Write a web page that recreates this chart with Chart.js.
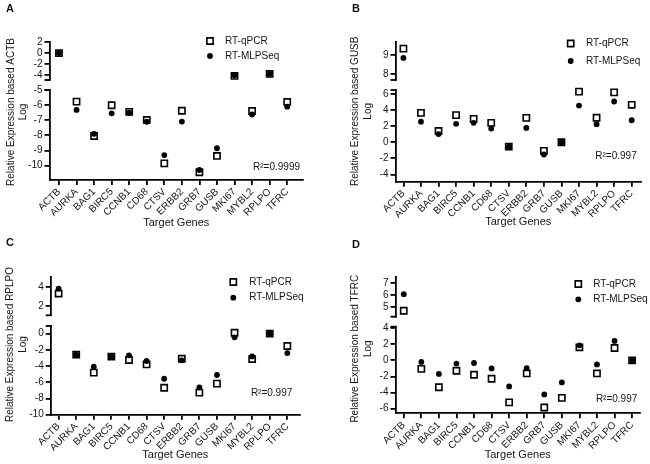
<!DOCTYPE html>
<html>
<head>
<meta charset="UTF-8">
<title>Relative Expression - RT-qPCR vs RT-MLPSeq</title>
<script src="https://cdn.jsdelivr.net/npm/chart.js@4"></script>
<style>
  body { margin: 0; background: #fff; }
  #wrap { position: relative; width: 650px; height: 464px; font-family: "Liberation Sans", Arial, sans-serif; }
  .panel { position: absolute; width: 325px; height: 232px; }
  .tag { position: absolute; font-weight: bold; font-size: 11px; line-height: 11px; color: #111; }
</style>
</head>
<body>
<div id="wrap">
  <div class="panel" style="left:0;top:0"><canvas id="chartA" width="325" height="232"></canvas></div>
  <div class="panel" style="left:325px;top:0"><canvas id="chartB" width="325" height="232"></canvas></div>
  <div class="panel" style="left:0;top:232px"><canvas id="chartC" width="325" height="232"></canvas></div>
  <div class="panel" style="left:325px;top:232px"><canvas id="chartD" width="325" height="232"></canvas></div>
  <div class="tag" style="left:6px;top:3px">A</div>
  <div class="tag" style="left:352px;top:3px">B</div>
  <div class="tag" style="left:6px;top:237px">C</div>
  <div class="tag" style="left:352px;top:239px">D</div>
</div>
<script>
const genes = ['ACTB', 'AURKA', 'BAG1', 'BIRC5', 'CCNB1', 'CD68', 'CTSV', 'ERBB2', 'GRB7', 'GUSB', 'MKI67', 'MYBL2', 'RPLPO', 'TFRC'];
const seriesNames = ['RT-qPCR', 'RT-MLPSeq'];

// A - based on ACTB
const qpcrA = [0, -5.77, -8.04, -6.01, -6.45, -6.98, -9.85, -6.37, -10.44, -9.36, -4.1, -6.39, -3.76, -5.79];
const mlpA = [0, -6.32, -7.9, -6.54, -6.5, -7.1, -9.3, -7.09, -10.29, -8.85, -4.0, -6.62, -3.76, -6.1];
const topRangeA = [-4.85, 2], botRangeA = [-10.95, -5];
const topTicksA = [-4, -2, 0, 2], botTicksA = [-10, -9, -8, -7, -6, -5];
const r2A = '0.9999';

// B - based on GUSB
const qpcrB = [9.35, 3.65, 1.4, 3.38, 2.92, 2.42, -0.54, 3.04, -1.07, 0, 6.3, 3.05, 6.2, 4.66];
const mlpB = [8.86, 2.56, 1.02, 2.3, 2.42, 1.71, -0.54, 1.79, -1.52, 0, 4.56, 2.25, 5.07, 2.74];
const topRangeB = [7.7, 9.7], botRangeB = [-4.9, 6.5];
const topTicksB = [8, 9], botTicksB = [-4, -2, 0, 2, 4, 6];
const r2B = '0.997';

// C - based on RPLPO
const qpcrC = [3.3, -2.59, -4.81, -2.84, -3.25, -3.79, -6.67, -3.09, -7.28, -6.17, 0.12, -3.13, 0, -1.52];
const mlpC = [3.82, -2.59, -4.07, -2.84, -2.67, -3.37, -5.56, -3.29, -6.63, -5.1, -0.45, -2.8, 0, -2.39];
const topRangeC = [1, 5.05], botRangeC = [-10, 0.95];
const topTicksC = [2, 4], botTicksC = [-10, -8, -6, -4, -2, 0];
const r2C = '0.997';

// D - based on TFRC
const qpcrD = [4.68, -1.06, -3.35, -1.29, -1.79, -2.29, -5.23, -1.63, -5.88, -4.67, 1.63, -1.63, 1.54, 0];
const mlpD = [6.08, -0.19, -1.69, -0.4, -0.33, -1.0, -3.25, -0.96, -4.25, -2.75, 1.88, -0.5, 2.42, 0];
const topRangeD = [4.18, 7.5], botRangeD = [-6.6, 4.2];
const topTicksD = [5, 6, 7], botTicksD = [-6, -4, -2, 0, 2, 4];
const r2D = '0.997';

const ink = '#000';
const textInk = '#151515';
const lw = 1.8;
Chart.defaults.font.family = '"Liberation Sans", Arial, sans-serif';
Chart.defaults.font.size = 10;
Chart.defaults.color = textInk;

const squareStyle = { pointStyle: 'rect', pointRadius: 4.4, borderWidth: 1.6, borderColor: ink, backgroundColor: '#fff' };
const dotStyle = { pointStyle: 'circle', pointRadius: 2.9, borderWidth: 0, borderColor: ink, backgroundColor: ink };

// page layout of each panel (pixels inside its 325x232 canvas)
const panels = [
    { id: 'chartA', ref: 'ACTB', qpcr: qpcrA, mlp: mlpA, top: topRangeA, bot: botRangeA, topTicks: topTicksA, botTicks: botTicksA, r2: r2A,
      area: { left: 49.5, top: 42, right: 303, bottom: 180 }, seg: [38, 10, 90], xr: [-0.54, 13.9],
      yTitle: { x: [11, 23], y: 112 }, xTitleY: 223, legend: { x: 210, y: [41, 56], tx: 225 }, r2At: { x: 300, y: 167 } },
    { id: 'chartB', ref: 'GUSB', qpcr: qpcrB, mlp: mlpB, top: topRangeB, bot: botRangeB, topTicks: topTicksB, botTicks: botTicksB, r2: r2B,
      area: { left: 70.5, top: 42, right: 316, bottom: 181.7 }, seg: [38, 10, 91.7], xr: [-0.45, 13.53],
      yTitle: { x: [30, 43.3], y: 111.3 }, xTitleY: 222, legend: { x: 245.7, y: [43.5, 61], tx: 261 }, r2At: { x: 311.7, y: 156.7 } },
    { id: 'chartC', ref: 'RPLPO', qpcr: qpcrC, mlp: mlpC, top: topRangeC, bot: botRangeC, topTicks: topTicksC, botTicks: botTicksC, r2: r2C,
      area: { left: 50.7, top: 45, right: 300, bottom: 182.7 }, seg: [38.3, 10.7, 88.7], xr: [-0.45, 13.72],
      yTitle: { x: [10, 23.3], y: 112.5 }, xTitleY: 223, legend: { x: 233.3, y: [50, 65.7], tx: 249.3 }, r2At: { x: 292.3, y: 161.7 } },
    { id: 'chartD', ref: 'TFRC', qpcr: qpcrD, mlp: mlpD, top: topRangeD, bot: botRangeD, topTicks: topTicksD, botTicks: botTicksD, r2: r2D,
      area: { left: 70.5, top: 45.3, right: 315, bottom: 181.3 }, seg: [39.4, 10, 86.6], xr: [-0.47, 13.45],
      yTitle: { x: [30, 43.3], y: 116.7 }, xTitleY: 223, legend: { x: 253.3, y: [52, 67.3], tx: 268.3 }, r2At: { x: 312.3, y: 167.3 } }
];

function points(vals, keep) {
    return vals.map((v, i) => ({ x: i, y: v })).filter(p => keep(p.y));
}

// break caps on the y axis, y title, legend and R2 label
const decor = {
    id: 'decor',
    afterDraw(chart, args, o) {
        const { ctx, chartArea } = chart;
        const yTop = chart.scales.yTop, yBot = chart.scales.yBot;
        const ax = chartArea.left;
        ctx.save();
        ctx.fillStyle = ink;
        ctx.fillRect(ax - 5, yTop.bottom - lw / 2, 5 + lw / 2, lw);
        ctx.fillRect(ax - 5, yBot.top - lw / 2, 5 + lw / 2, lw);

        ctx.fillStyle = textInk;
        ctx.font = '10px "Liberation Sans", Arial, sans-serif';
        ctx.textAlign = 'center';
        ctx.textBaseline = 'middle';
        const lines = ['Relative Expression based ' + o.ref, 'Log'];
        lines.forEach((t, i) => {
            ctx.save();
            ctx.translate(o.yTitle.x[i], o.yTitle.y);
            ctx.rotate(-Math.PI / 2);
            ctx.fillText(t, 0, 0);
            ctx.restore();
        });

        const items = [squareStyle, dotStyle];
        items.forEach((s, i) => {
            ctx.fillStyle = s.backgroundColor;
            ctx.strokeStyle = s.borderColor;
            ctx.lineWidth = s.borderWidth;
            Chart.helpers.drawPoint(ctx, { pointStyle: s.pointStyle, radius: s.pointRadius, borderWidth: s.borderWidth, rotation: 0 }, o.legend.x, o.legend.y[i]);
            ctx.fillStyle = textInk;
            ctx.textAlign = 'left';
            ctx.fillText(seriesNames[i], o.legend.tx, o.legend.y[i]);
        });

        ctx.textAlign = 'right';
        ctx.fillText('R\u00B2=' + o.r2, o.r2At.x, o.r2At.y);
        ctx.restore();
    }
};

panels.forEach(p => {
    const yWidth = p.area.left;
    const xHeight = p.xTitleY + 6.6 - p.area.bottom;
    const tickGrid = { display: true, drawOnChartArea: false, drawTicks: true, color: ink, lineWidth: lw, tickColor: ink, tickWidth: lw };
    const border = { display: true, color: ink, width: lw };
    const isTop = v => v > p.bot[1];
    const isBot = v => v <= p.bot[1];

    new Chart(document.getElementById(p.id), {
        type: 'scatter',
        data: {
            datasets: [
                { label: seriesNames[1], data: points(p.mlp, isTop), yAxisID: 'yTop', order: 0, clip: false, ...dotStyle },
                { label: seriesNames[1], data: points(p.mlp, isBot), yAxisID: 'yBot', order: 0, clip: false, ...dotStyle },
                { label: seriesNames[0], data: points(p.qpcr, isTop), yAxisID: 'yTop', order: 1, clip: false, ...squareStyle },
                { label: seriesNames[0], data: points(p.qpcr, isBot), yAxisID: 'yBot', order: 1, clip: false, ...squareStyle }
            ]
        },
        options: {
            responsive: false,
            animation: false,
            layout: { padding: { left: 0, top: p.area.top, right: 325 - p.area.right, bottom: 232 - p.area.bottom - xHeight } },
            plugins: {
                legend: { display: false },
                tooltip: { enabled: false },
                decor: p
            },
            scales: {
                x: {
                    type: 'linear',
                    min: p.xr[0],
                    max: p.xr[1],
                    afterBuildTicks: s => { s.ticks = genes.map((g, i) => ({ value: i })); },
                    afterFit: s => { s.height = xHeight; },
                    ticks: { callback: v => genes[v], autoSkip: false, minRotation: 45, maxRotation: 45, padding: 1 },
                    grid: { ...tickGrid, tickLength: 5 },
                    border: border,
                    title: { display: true, text: 'Target Genes', font: { size: 11 }, padding: 0 }
                },
                yTop: {
                    type: 'linear', position: 'left', stack: 'y', stackWeight: p.seg[0], weight: 3,
                    min: p.top[0], max: p.top[1],
                    afterBuildTicks: s => { s.ticks = p.topTicks.map(v => ({ value: v })); },
                    afterFit: s => { s.width = yWidth; },
                    ticks: { padding: 2, autoSkip: false },
                    grid: { ...tickGrid, tickLength: 5 },
                    border: border
                },
                ySpace: {
                    type: 'linear', position: 'left', stack: 'y', stackWeight: p.seg[1], weight: 2,
                    display: true,
                    afterFit: s => { s.width = yWidth; },
                    ticks: { display: false },
                    grid: { display: false },
                    border: { display: false }
                },
                yBot: {
                    type: 'linear', position: 'left', stack: 'y', stackWeight: p.seg[2], weight: 1,
                    min: p.bot[0], max: p.bot[1],
                    afterBuildTicks: s => { s.ticks = p.botTicks.map(v => ({ value: v })); },
                    afterFit: s => { s.width = yWidth; },
                    ticks: { padding: 2, autoSkip: false },
                    grid: { ...tickGrid, tickLength: 5 },
                    border: border
                }
            }
        },
        plugins: [decor]
    });
});
</script>
</body>
</html>
